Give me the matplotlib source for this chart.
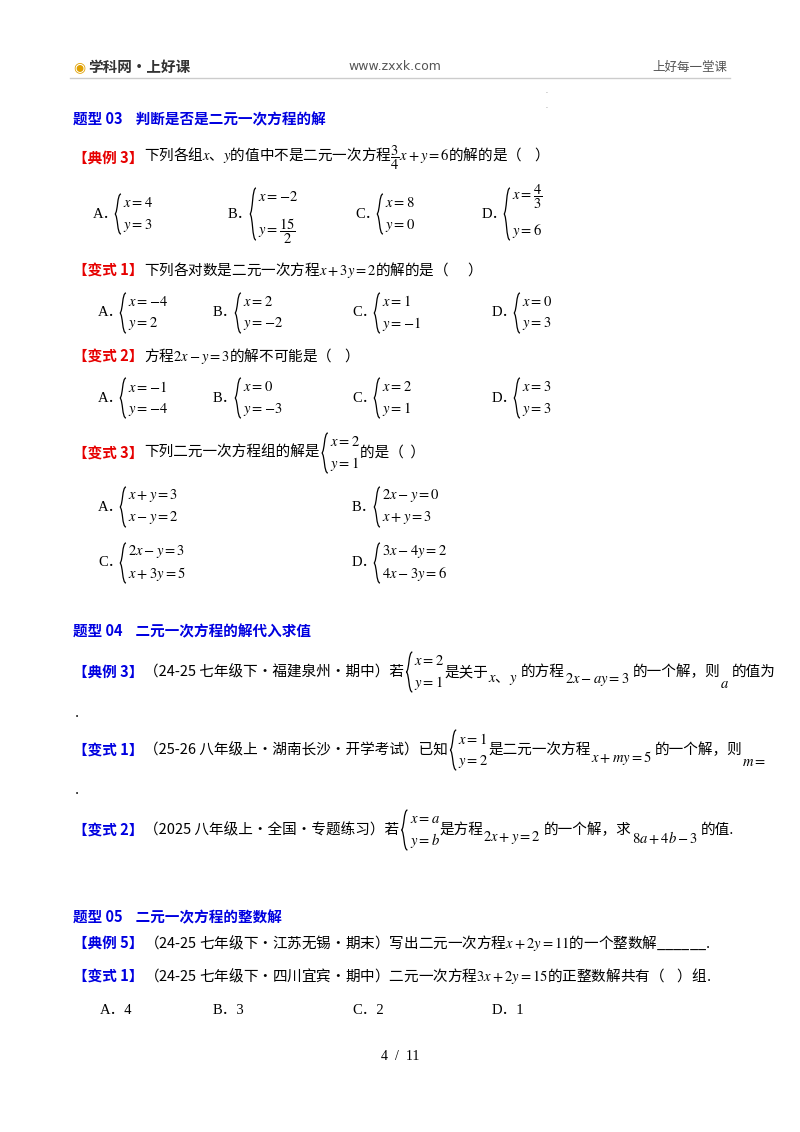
import matplotlib
matplotlib.use("Agg")
import matplotlib.pyplot as plt
from matplotlib.path import Path
from matplotlib.patches import PathPatch

plt.rcParams['font.family'] = ['Noto Sans CJK SC', 'DejaVu Sans']
plt.rcParams['mathtext.fontset'] = 'stix'

W, H = 800, 1132
fig = plt.figure(figsize=(8, 11.32), dpi=100)
fig.patch.set_facecolor('white')
R = fig.canvas.get_renderer()

RED = '#e60000'
BLUE = '#0000e0'
FS = 10.5
SERIF = ['Liberation Serif', 'Noto Sans CJK SC']

def t(x, y, s, color='black', size=FS, weight='normal', ha='left', family=None):
    kw = {}
    if family:
        kw['family'] = family
    tx = fig.text(x / W, 1 - y / H, s, color=color, fontsize=size, weight=weight,
                  ha=ha, va='center', **kw)
    return tx.get_window_extent(R).width

def brace(x, y, half):
    w = 6
    verts = [(x + w, y - half), (x + 2, y - half), (x + 3, y - 2), (x, y),
             (x, y), (x + 3, y + 2), (x + 2, y + half), (x + w, y + half)]
    codes = [Path.MOVETO, Path.CURVE4, Path.CURVE4, Path.CURVE4,
             Path.MOVETO, Path.CURVE4, Path.CURVE4, Path.CURVE4]
    fv = [(px / W, 1 - py / H) for px, py in verts]
    fig.add_artist(PathPatch(Path(fv, codes), fill=False, lw=0.9, color='black',
                             transform=fig.transFigure))

def system(x, y, l1, l2, gap=11):
    brace(x, y, gap + 9)
    w1 = t(x + 8, y - gap, l1)
    w2 = t(x + 8, y + gap, l2)
    return 8 + max(w1, w2) + 2

def seq(x, y, parts):
    for kind, s, dy in parts:
        if kind == 'sys':
            x += system(x + 2, y, s[0], s[1])
        else:
            x += t(x, y + dy, s) + (3 if dy else 0)

def labeled(y, label, color, parts):
    x = 73 + t(73, y, label, color=color, weight='bold') + 1
    seq(x, y, parts)

header_left = '学科网·上好课'
header_mid = 'www.zxxk.com'
header_right = '上好每一堂课'
t(73, 67, '◉', color='#e0a000', size=10, family=['DejaVu Sans'])
t(88, 67, header_left, color='#333333', size=10.5, weight='bold')
t(395, 67, header_mid, color='#555555', size=9, ha='center', family=['DejaVu Sans'])
t(727, 67, header_right, color='#555555', size=9, ha='right')
fig.add_artist(plt.Line2D([70 / W, 730 / W], [1 - 78 / H] * 2, color='#cccccc', lw=1))
t(545, 91, '.', color='#888888', size=5)
t(545, 106, '.', color='#888888', size=5)

sec03 = '题型 03    判断是否是二元一次方程的解'
sec04 = '题型 04    二元一次方程的解代入求值'
sec05 = '题型 05    二元一次方程的整数解'
t(73, 119, sec03, color=BLUE, weight='bold')

labeled(158, '【典例 3】', RED, [('t', r'下列各组$x$、$y$的值中不是二元一次方程$\dfrac{3}{4}x+y=6$的解的是（    ）', 0)])

labels = ['A', 'B', 'C', 'D']
q1 = [(r'$x=4$', r'$y=3$'), (r'$x=-2$', r'$y=\dfrac{15}{2}$'), (r'$x=8$', r'$y=0$'), (r'$x=\dfrac{4}{3}$', r'$y=6$')]
for i, (xa, (a, b)) in enumerate(zip([93, 228, 355, 482], q1)):
    t(xa, 214, labels[i] + '．', family=SERIF)
    system(xa + 22, 214, a, b, gap=17 if i in (1, 3) else 11)

labeled(270, '【变式 1】', RED, [('t', r'下列各对数是二元一次方程$x+3y=2$的解的是（      ）', 0)])
q2 = [(r'$x=-4$', r'$y=2$'), (r'$x=2$', r'$y=-2$'), (r'$x=1$', r'$y=-1$'), (r'$x=0$', r'$y=3$')]
for i, (xa, (a, b)) in enumerate(zip([98, 213, 352, 492], q2)):
    t(xa, 313, labels[i] + '．', family=SERIF)
    system(xa + 22, 313, a, b)

labeled(356, '【变式 2】', RED, [('t', r'方程$2x-y=3$的解不可能是（    ）', 0)])
q3 = [(r'$x=-1$', r'$y=-4$'), (r'$x=0$', r'$y=-3$'), (r'$x=2$', r'$y=1$'), (r'$x=3$', r'$y=3$')]
for i, (xa, (a, b)) in enumerate(zip([98, 213, 352, 492], q3)):
    t(xa, 398, labels[i] + '．', family=SERIF)
    system(xa + 22, 398, a, b)

labeled(453, '【变式 3】', RED, [('t', '下列二元一次方程组的解是', 0), ('sys', (r'$x=2$', r'$y=1$'), 0),
                                 ('t', '的是（  ）', 0)])
q4 = [(r'$x+y=3$', r'$x-y=2$'), (r'$2x-y=0$', r'$x+y=3$'), (r'$2x-y=3$', r'$x+3y=5$'), (r'$3x-4y=2$', r'$4x-3y=6$')]
pos4 = [(98, 507), (352, 507), (98, 563), (352, 563)]
for i, ((xa, ya), (a, b)) in enumerate(zip(pos4, q4)):
    t(xa, ya, labels[i] + '．', family=SERIF)
    system(xa + 22, ya, a, b)

t(73, 631, sec04, color=BLUE, weight='bold')
labeled(672, '【典例 3】', BLUE, [('t', '（24-25 七年级下·福建泉州·期中）若', 0),
               ('sys', (r'$x=2$', r'$y=1$'), 0), ('t', '是关于', 0),
               ('t', r'$x$、$y$', 8), ('t', '的方程', 0), ('t', r'$2x-ay=3$', 8),
               ('t', '的一个解，则', 0), ('t', r'$a$', 12), ('t', '的值为', 0)])
t(75, 713, '.')

labeled(750, '【变式 1】', BLUE, [('t', '（25-26 八年级上·湖南长沙·开学考试）已知', 0),
               ('sys', (r'$x=1$', r'$y=2$'), 0), ('t', '是二元一次方程', 0),
               ('t', r'$x+my=5$', 8), ('t', '的一个解，则', 0), ('t', r'$m=$', 12)])
t(75, 790, '.')

labeled(830, '【变式 2】', BLUE, [('t', '（2025 八年级上·全国·专题练习）若', 0),
               ('sys', (r'$x=a$', r'$y=b$'), 0), ('t', '是方程', 0),
               ('t', r'$2x+y=2$', 8), ('t', '的一个解，求', 0),
               ('t', r'$8a+4b-3$', 8), ('t', '的值.', 0)])

t(73, 917, sec05, color=BLUE, weight='bold')
labeled(943, '【典例 5】', BLUE, [('t', r'（24-25 七年级下·江苏无锡·期末）写出二元一次方程$x+2y=11$的一个整数解______.', 0)])
labeled(976, '【变式 1】', BLUE, [('t', r'（24-25 七年级下·四川宜宾·期中）二元一次方程$3x+2y=15$的正整数解共有（    ）组.', 0)])
q6 = ['4', '3', '2', '1']
for i, (xa, v) in enumerate(zip([100, 213, 352, 492], q6)):
    t(xa, 1010, labels[i] + '．' + v, family=SERIF)

t(400, 1057, '4  /  11', ha='center', family=SERIF, size=10)

fig.savefig('out.png', dpi=100, facecolor='white')
